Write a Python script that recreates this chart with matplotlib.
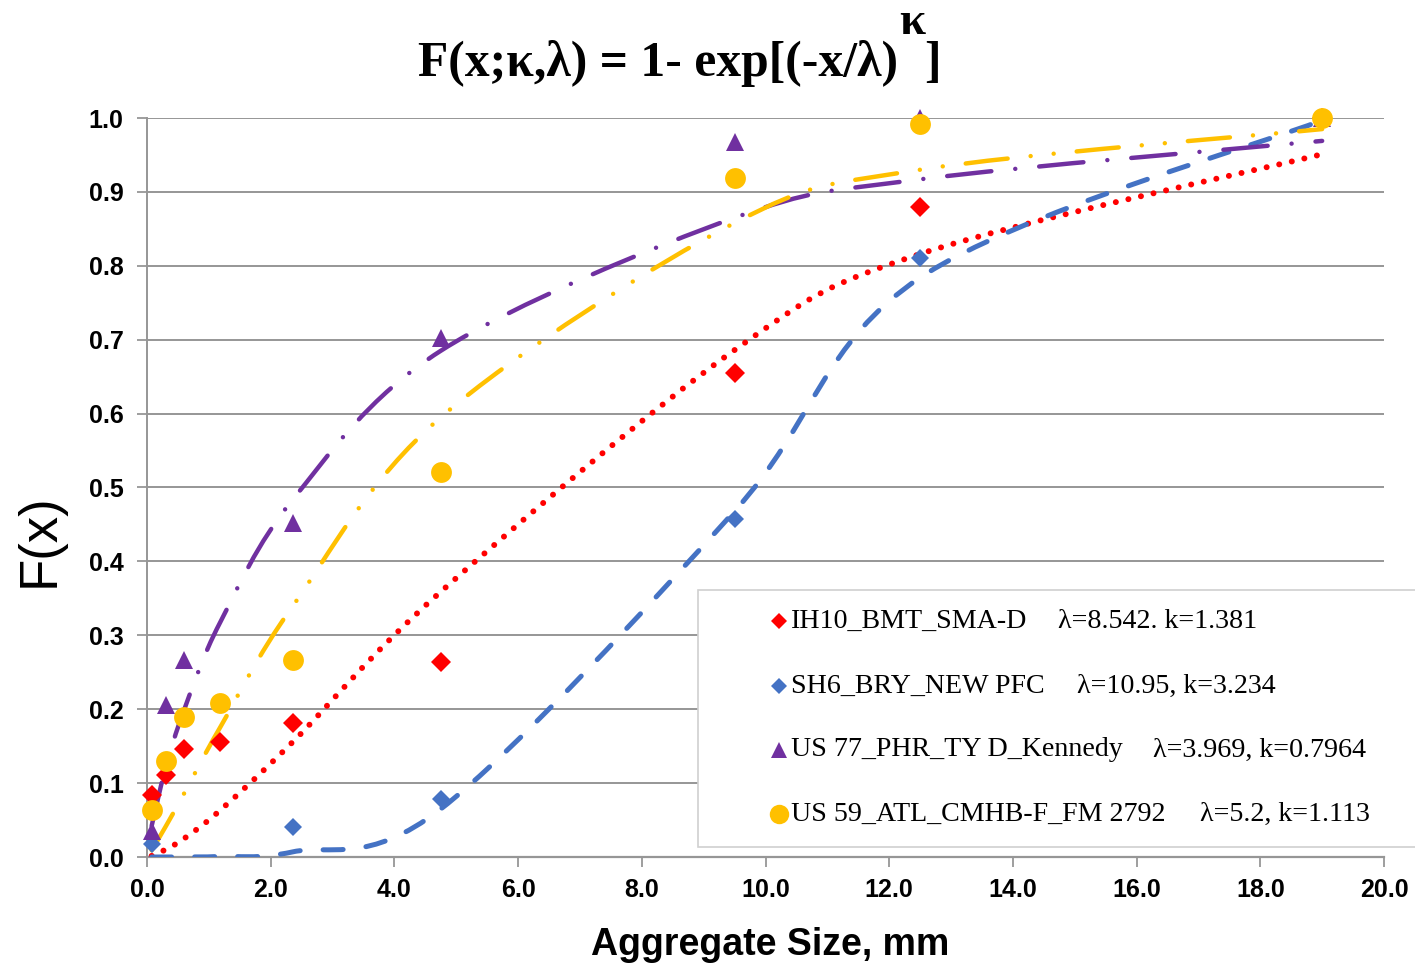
import numpy as np
import matplotlib
matplotlib.use("Agg")
import matplotlib.pyplot as plt
from matplotlib.path import Path
from matplotlib.patches import PathPatch, Rectangle
from matplotlib.lines import Line2D

# ---------------- data ----------------
sieve_mm = [0.075, 0.3, 0.6, 1.18, 2.36, 4.75, 9.5, 12.5, 19.0]

names = ["IH10_BMT_SMA-D", "SH6_BRY_NEW PFC", "US 77_PHR_TY D_Kennedy",
         "US 59_ATL_CMHB-F_FM 2792"]
params = ["\u03bb=8.542. k=1.381", "\u03bb=10.95, k=3.234",
          "\u03bb=3.969, k=0.7964", "\u03bb=5.2, k=1.113"]

# measured gradation points
ih10_x = [0.075, 0.3, 0.6, 1.18, 2.36, 4.75, 9.5, 12.5, 19.0]
ih10_y = [0.084, 0.111, 0.146, 0.156, 0.181, 0.264, 0.655, 0.880, 1.0]
sh6_x = [0.075, 2.36, 4.75, 9.5, 12.5, 19.0]
sh6_y = [0.017, 0.041, 0.078, 0.457, 0.811, 1.0]
us77_x = [0.075, 0.3, 0.6, 2.36, 4.75, 9.5, 12.5, 19.0]
us77_y = [0.035, 0.206, 0.267, 0.452, 0.702, 0.968, 1.0, 1.0]
us59_x = [0.075, 0.3, 0.6, 1.18, 2.36, 4.75, 9.5, 12.5, 19.0]
us59_y = [0.064, 0.130, 0.189, 0.208, 0.267, 0.521, 0.919, 0.992, 1.0]

# fitted (Weibull) curve values at the sieve sizes
ih10_fit = [0.0015, 0.010, 0.025, 0.063, 0.156, 0.359, 0.686, 0.816, 0.951]
sh6_fit = [0.0, 0.0, 0.0001, 0.0008, 0.007, 0.065, 0.468, 0.784, 0.997]
us77_fit = [0.042, 0.120, 0.199, 0.317, 0.484, 0.685, 0.865, 0.917, 0.969]
us59_fit = [0.009, 0.041, 0.086, 0.175, 0.340, 0.595, 0.858, 0.930, 0.985]

x_ticks = [0.0, 2.0, 4.0, 6.0, 8.0, 10.0, 12.0, 14.0, 16.0, 18.0, 20.0]
y_ticks = [0.0, 0.1, 0.2, 0.3, 0.4, 0.5, 0.6, 0.7, 0.8, 0.9, 1.0]

# ---------------- style ----------------
RED, BLUE, PURPLE, YELLOW = "#FF0000", "#4472C4", "#7030A0", "#FFC000"
GRID = "#969696"
W, H = 1415, 963

plt.rcParams["font.family"] = ["Liberation Sans", "DejaVu Sans"]

fig = plt.figure(figsize=(W / 100, H / 100), dpi=100)
ax = fig.add_axes([147 / W, 1 - 857 / H, (1384 - 147) / W, (857 - 118) / H])


def smooth_path(x, y):
    """Excel-like smoothed line rendered as cubic Bezier segments."""
    P = np.column_stack([x, y]).astype(float)
    n = len(P)
    verts = [P[0]]
    codes = [Path.MOVETO]
    for i in range(n - 1):
        p0 = P[i - 1] if i > 0 else P[i]
        p1 = P[i]
        p2 = P[i + 1]
        p3 = P[i + 2] if i + 2 < n else P[i + 1]
        verts += [p1 + (p2 - p0) / 6.0, p2 - (p3 - p1) / 6.0, p2]
        codes += [Path.CURVE4] * 3
    return Path(verts, codes)


curve_specs = [
    (ih10_fit, RED, 4.3, (0, (0.01, 2.15))),
    (sh6_fit, BLUE, 3.6, (0, (4.0, 4.6))),
    (us77_fit, PURPLE, 3.2, (0, (10.0, 5.4, 0.01, 5.4))),
    (us59_fit, YELLOW, 3.2, (0, (9.5, 5.2, 0.01, 5.2, 0.01, 5.2))),
]
for fit, col, lw, ls in curve_specs:
    patch = PathPatch(smooth_path(sieve_mm, fit), fill=False, edgecolor=col,
                      linewidth=lw, linestyle=ls, capstyle="round",
                      joinstyle="round", transform=ax.transData, zorder=3)
    ax.add_patch(patch)

marker_specs = [
    (ih10_x, ih10_y, RED, "D", 10.0),
    (sh6_x, sh6_y, BLUE, "D", 9.5),
    (us77_x, us77_y, PURPLE, "^", 13.0),
    (us59_x, us59_y, YELLOW, "o", 15.0),
]
for xs, ys, col, mk, ms in marker_specs:
    ax.plot(xs, ys, linestyle="none", marker=mk, markersize=ms, color=col,
            markeredgewidth=0, zorder=5, clip_on=False)

ax.set_xlim(0, 20)
ax.set_ylim(0, 1.0)
ax.set_xticks(x_ticks)
ax.set_yticks(y_ticks)
ax.set_xticklabels([f"{v:.1f}" for v in x_ticks], fontsize=18, fontweight="bold")
ax.set_yticklabels([f"{v:.1f}" for v in y_ticks], fontsize=18, fontweight="bold")
ax.tick_params(axis="x", direction="out", length=7, width=1.3, color=GRID, pad=8)
ax.tick_params(axis="y", direction="out", length=7, width=1.3, color=GRID, pad=10)
ax.yaxis.grid(True, color=GRID, linewidth=1.4)
ax.set_axisbelow(True)
for s in ["top", "right"]:
    ax.spines[s].set_visible(False)
ax.spines["left"].set_color(GRID)
ax.spines["left"].set_linewidth(1.4)
ax.spines["bottom"].set_color(GRID)
ax.spines["bottom"].set_linewidth(1.6)

# axis titles
fig.text(770 / W, 1 - 955 / H, "Aggregate Size, mm", ha="center", va="baseline",
         fontsize=27, fontweight="bold")
fig.text(40 / W, 1 - 540 / H, "F(x)", ha="center", va="center", rotation=90,
         fontsize=38)

# title (fit to the reference width)
fig.canvas.draw()
rend = fig.canvas.get_renderer()
tfont = ["Liberation Serif", "DejaVu Serif"]
main = fig.text(898 / W, 1 - 76 / H, "F(x;\u03ba,\u03bb) = 1- exp[(-x/\u03bb)",
                ha="right", va="baseline", fontsize=35, fontweight="bold",
                family=tfont)
bb = main.get_window_extent(rend)
tsize = 35 * 480 / bb.width
main.set_fontsize(tsize)
fig.text(912 / W, 1 - 34 / H, "\u03ba", ha="center", va="baseline",
         fontsize=tsize * 0.95, fontweight="bold", family=tfont)
fig.text(924 / W, 1 - 76 / H, "]", ha="left", va="baseline",
         fontsize=tsize, fontweight="bold", family=tfont)

# legend box (drawn manually to reproduce layout)
box = Rectangle((698 / W, 1 - 847 / H), (1430 - 698) / W, (847 - 590) / H,
                transform=fig.transFigure, facecolor="white",
                edgecolor="#D0D0D0", linewidth=1.2, zorder=6)
fig.patches.append(box)
rows_y = [621, 686, 750, 814]
param_x = [1058, 1077, 1153, 1200]
leg_markers = [(RED, "D", 8.5), (BLUE, "D", 8.0), (PURPLE, "^", 12.0),
               (YELLOW, "o", 14.0)]
lfont = ["Liberation Serif", "DejaVu Serif"]
for i, (col, mk, ms) in enumerate(leg_markers):
    yy = 1 - rows_y[i] / H
    fig.add_artist(Line2D([779 / W], [yy], marker=mk, markersize=ms, color=col,
                          markeredgewidth=0, linestyle="none",
                          transform=fig.transFigure, zorder=7))
    fig.text(791 / W, yy, names[i], ha="left", va="center", fontsize=20.2,
             family=lfont, zorder=8)
    fig.text(param_x[i] / W, yy, params[i], ha="left", va="center",
             fontsize=20.2, family=lfont, zorder=8)

fig.savefig("out.png", dpi=100)
